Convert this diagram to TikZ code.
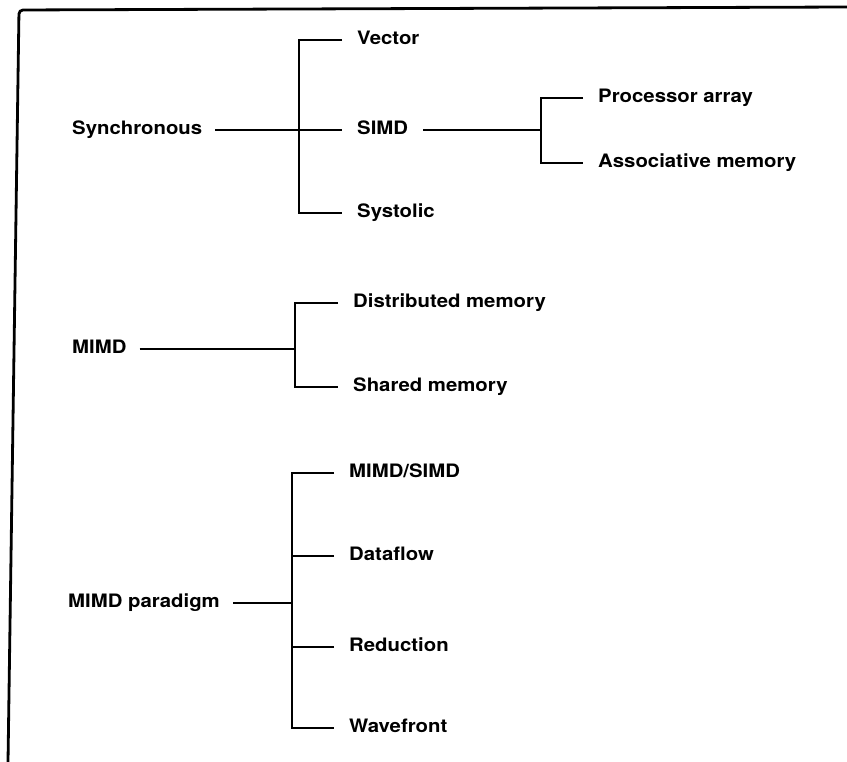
\documentclass[tikz,border=0pt]{standalone}
\usepackage{fontspec}
\usepackage{tikz}
\usetikzlibrary{positioning, calc}
\newfontfamily\labfont{TeX Gyre Heros}[FakeStretch=1.1]

\begin{document}
\begin{tikzpicture}[
    x=1pt, y=-1pt,
    root/.style={anchor=west, inner xsep=13pt, inner ysep=0pt,
                 text height=13.3pt, text depth=4pt,
                 font=\labfont\bfseries\fontsize{18.5}{22}\selectfont},
    leaf/.style={anchor=west, inner xsep=15pt, inner ysep=0pt,
                 text height=13.3pt, text depth=4pt,
                 font=\labfont\bfseries\fontsize{18.5}{22}\selectfont},
    ln/.style={line width=2.6pt},
    frame/.style={line width=2.8pt, rounded corners=4pt},
]
\useasboundingbox (0,0) rectangle (847,762);

% Frame (left and top edges only)
\draw[frame] (8,762) -- (19,10) -- (847,7);

% Synchronous
\node[root] (sync) at (59, 130) {Synchronous};
\node[leaf] (vec)  at (342, 40)  {Vector};
\node[leaf] (simd) at (342, 130) {SIMD};
\node[leaf] (sys)  at (342, 213) {Systolic};
\coordinate (syncT) at (299, 130);

\node[leaf] (parr)  at (583, 98)  {Processor array};
\node[leaf] (assoc) at (583, 163) {Associative memory};
\coordinate (simdT) at (541, 130);

% MIMD
\node[root] (mimd) at (59, 349) {MIMD};
\node[leaf] (dist) at (338, 303) {Distributed memory};
\node[leaf] (shrd) at (338, 387) {Shared memory};
\coordinate (mimdT) at (295, 349);

% MIMD paradigm
\node[root] (para) at (55, 603) {MIMD paradigm};
\node[leaf] (msimd) at (334, 473) {MIMD/SIMD};
\node[leaf] (dflow) at (334, 556) {Dataflow};
\node[leaf] (red)   at (334, 647) {Reduction};
\node[leaf] (wave)  at (334, 728) {Wavefront};
\coordinate (paraT) at (292, 603);

% Connectors
\draw[ln] (sync.east) -- (simd.west);
\draw[ln] (vec.west) -- (vec.west -| syncT) -- (sys.west -| syncT) -- (sys.west);

\draw[ln] (simd.east) -- (simdT);
\draw[ln] (parr.west) -- (parr.west -| simdT) -- (assoc.west -| simdT) -- (assoc.west);

\draw[ln] (mimd.east) -- (mimdT);
\draw[ln] (dist.west) -- (dist.west -| mimdT) -- (shrd.west -| mimdT) -- (shrd.west);

\draw[ln] (para.east) -- (paraT);
\draw[ln] (msimd.west) -- (msimd.west -| paraT) -- (wave.west -| paraT) -- (wave.west);
\draw[ln] (dflow.west) -- (dflow.west -| paraT);
\draw[ln] (red.west) -- (red.west -| paraT);
\end{tikzpicture}
\end{document}
